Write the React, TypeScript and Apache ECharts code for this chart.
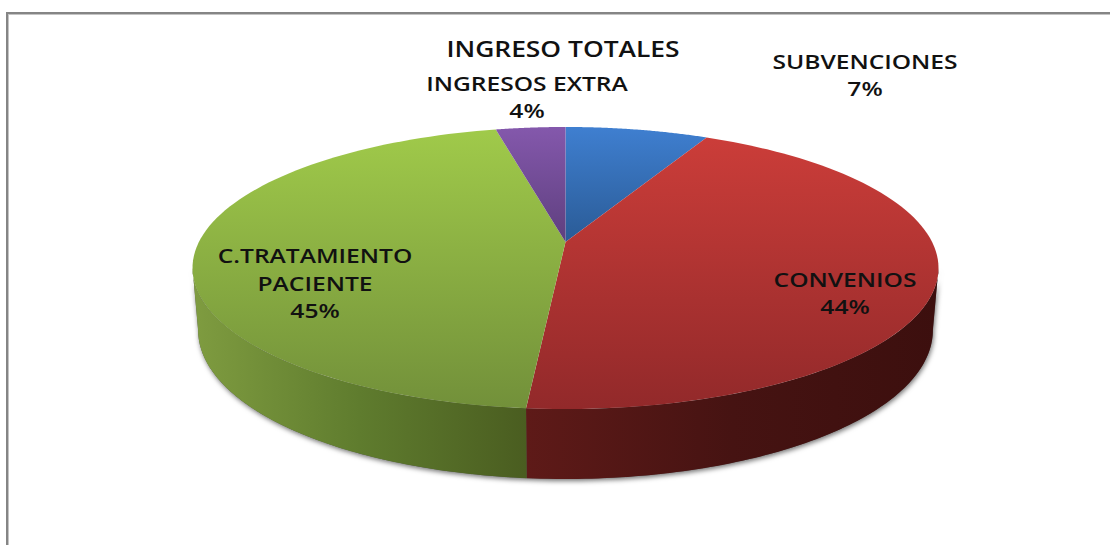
import React, { useEffect, useRef } from "react";
import * as echarts from "echarts";

const categories = ["SUBVENCIONES", "CONVENIOS", "C.TRATAMIENTO\nPACIENTE", "INGRESOS EXTRA"];
const values = [7.4, 44.0, 45.0, 3.6];
const titleText = "INGRESO TOTALES";

const faceColors = [
  ["#3f7fd0", "#2a5b96"],
  ["#cb3d39", "#92292a"],
  ["#a0ca4a", "#72903a"],
  ["#8458ac", "#5e3f7e"],
];
const wallColors = [
  ["#2a5b96", "#2a5b96", "#2a5b96"],
  ["#5e1a18", "#461312", "#3c0f0e"],
  ["#7f9c40", "#5f7c2e", "#4a5d20"],
  ["#5e3f7e", "#5e3f7e", "#5e3f7e"],
];
const labelCentres = [
  [865, 75],
  [845, 293],
  [315, 283],
  [527, 97],
];

const CX = 565.5;
const APEX_Y = 242;
const K = 366.6;
const C = -0.1844;
const A = 91.6;
const LOWER_X = 0.985;
const TANGENT = Math.acos(C) / (2 * Math.PI);
const STEPS = 90;

function rim(frac: number): [number, number] {
  const t = frac * 2 * Math.PI;
  const s = -Math.cos(t);
  const r = Math.sin(t);
  const den = 1 + C * s;
  return [CX + (K * r) / den, (A * s + APEX_Y) / den];
}

function lowerRim(frac: number): [number, number] {
  const [x, y] = rim(frac);
  const s = -Math.cos(frac * 2 * Math.PI);
  return [CX + (x - CX) * LOWER_X, y + 62 + (s + C) * 9.8];
}

function arcPoints(from: number, to: number, fn: (f: number) => [number, number]) {
  const pts: [number, number][] = [];
  for (let i = 0; i <= STEPS; i++) pts.push(fn(from + ((to - from) * i) / STEPS));
  return pts;
}

function wallPolygon(from: number, to: number) {
  return [...arcPoints(from, to, rim), ...arcPoints(to, from, lowerRim)];
}

const total = values.reduce((a, b) => a + b, 0);

function renderSlice(params: any, api: any) {
  const idx = params.dataIndex;
  const startFrac = values.slice(0, idx).reduce((a, b) => a + b, 0) / total;
  const endFrac = startFrac + api.value(0) / total;
  const children: any[] = [];
  if (idx === 0) {
    children.push({
      type: "polygon",
      shape: { points: wallPolygon(TANGENT, 1 - TANGENT) },
      style: {
        fill: "#555",
        shadowColor: "rgba(0,0,0,0.55)",
        shadowBlur: 5,
        shadowOffsetX: 1,
        shadowOffsetY: 2,
      },
    });
  }
  const wStart = Math.max(startFrac, TANGENT);
  const wEnd = Math.min(endFrac, 1 - TANGENT);
  if (wEnd > wStart) {
    const c = wallColors[idx];
    children.push({
      type: "polygon",
      shape: { points: wallPolygon(wStart, wEnd) },
      style: {
        fill: new echarts.graphic.LinearGradient(0, 0, 1, 0, [
          { offset: 0, color: c[0] },
          { offset: 0.5, color: c[1] },
          { offset: 1, color: c[2] },
        ]),
      },
    });
  }
  const f = faceColors[idx];
  children.push({
    type: "polygon",
    shape: { points: [[CX, APEX_Y], ...arcPoints(startFrac, endFrac, rim)] },
    style: {
      fill: new echarts.graphic.LinearGradient(0, 0, 0, 1, [
        { offset: 0, color: f[0] },
        { offset: 1, color: f[1] },
      ]),
    },
  });
  return { type: "group", children };
}

const FONT = "'Open Sans', sans-serif";

export default function App() {
  const ref = useRef<HTMLDivElement>(null);
  useEffect(() => {
    document.body.style.margin = "0";
    const chart = echarts.init(ref.current!, undefined, { renderer: "svg" });
    chart.setOption({
      animation: false,
      backgroundColor: "#ffffff",
      graphic: [
        { type: "rect", shape: { x: 6, y: 12, width: 1104, height: 2 }, style: { fill: "#858585" } },
        { type: "rect", shape: { x: 8, y: 14, width: 1102, height: 1 }, style: { fill: "#c4c4c4" } },
        { type: "rect", shape: { x: 6, y: 12, width: 2, height: 533 }, style: { fill: "#858585" } },
        { type: "rect", shape: { x: 8, y: 14, width: 1, height: 531 }, style: { fill: "#c4c4c4" } },
        {
          type: "text",
          x: 563,
          y: 48,
          scaleX: 1.2,
          z: 20,
          style: {
            text: titleText,
            align: "center",
            verticalAlign: "middle",
            fontFamily: FONT,
            fontSize: 22,
            fontWeight: 600,
            fill: "#111",
          },
        },
        ...categories.map((name, i) => ({
          type: "text",
          x: labelCentres[i][0],
          y: labelCentres[i][1],
          scaleX: 1.2,
          z: 20,
          style: {
            text: `${name}\n${Math.round(values[i])}%`,
            align: "center",
            verticalAlign: "middle",
            fontFamily: FONT,
            fontSize: 20.5,
            fontWeight: 600,
            lineHeight: 27.5,
            fill: "#111",
          },
        })),
      ],
      series: [
        {
          type: "custom",
          coordinateSystem: "none",
          renderItem: renderSlice,
          data: values.map((v) => [v]),
          silent: true,
        },
      ],
    });
    return () => chart.dispose();
  }, []);
  return <div ref={ref} style={{ width: 1110, height: 545 }} />;
}
